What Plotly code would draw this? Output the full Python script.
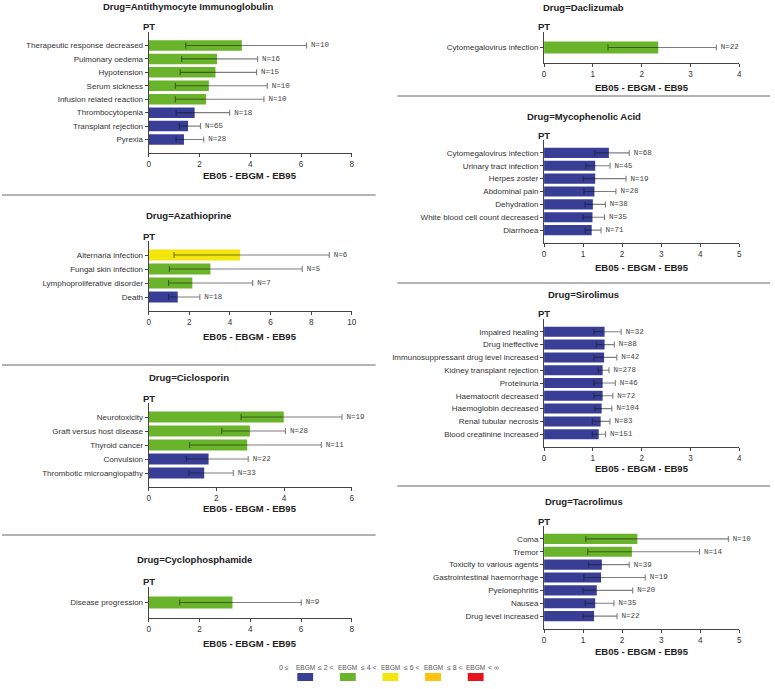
import plotly.graph_objects as go

# ---------------- data ----------------
atg_pt = ["Therapeutic response decreased", "Pulmonary oedema", "Hypotension", "Serum sickness",
          "Infusion related reaction", "Thrombocytopenia", "Transplant rejection", "Pyrexia"]
atg_ebgm = [3.67, 2.69, 2.63, 2.37, 2.26, 1.81, 1.55, 1.39]
atg_eb05 = [1.46, 1.30, 1.24, 1.05, 1.05, 1.08, 1.21, 1.08]
atg_eb95 = [6.22, 4.29, 4.25, 4.67, 4.54, 3.19, 2.04, 2.17]
atg_n = [10, 16, 15, 10, 10, 18, 65, 28]

aza_pt = ["Alternaria infection", "Fungal skin infection", "Lymphoproliferative disorder", "Death"]
aza_ebgm = [4.50, 3.04, 2.15, 1.43]
aza_eb05 = [1.25, 1.02, 0.98, 0.98]
aza_eb95 = [8.89, 7.56, 5.12, 2.52]
aza_n = [6, 5, 7, 18]

cic_pt = ["Neurotoxicity", "Graft versus host disease", "Thyroid cancer", "Convulsion",
          "Thrombotic microangiopathy"]
cic_ebgm = [3.99, 2.99, 2.91, 1.77, 1.64]
cic_eb05 = [2.73, 2.16, 1.21, 1.11, 1.19]
cic_eb95 = [5.71, 4.04, 5.10, 2.94, 2.50]
cic_n = [19, 28, 11, 22, 33]

cyc_pt = ["Disease progression"]
cyc_ebgm = [3.30]
cyc_eb05 = [1.22]
cyc_eb95 = [6.01]
cyc_n = [9]

dac_pt = ["Cytomegalovirus infection"]
dac_ebgm = [2.34]
dac_eb05 = [1.31]
dac_eb95 = [3.53]
dac_n = [22]

myc_pt = ["Cytomegalovirus infection", "Urinary tract infection", "Herpes zoster", "Abdominal pain",
          "Dehydration", "White blood cell count decreased", "Diarrhoea"]
myc_ebgm = [1.66, 1.31, 1.31, 1.29, 1.25, 1.24, 1.22]
myc_eb05 = [1.30, 1.07, 1.00, 1.02, 1.05, 1.00, 1.05]
myc_eb95 = [2.18, 1.69, 2.10, 1.84, 1.57, 1.55, 1.46]
myc_n = [68, 45, 19, 28, 38, 35, 71]

sir_pt = ["Impaired healing", "Drug ineffective", "Immunosuppressant drug level increased",
          "Kidney transplant rejection", "Proteinuria", "Haematocrit decreased",
          "Haemoglobin decreased", "Renal tubular necrosis", "Blood creatinine increased"]
sir_ebgm = [1.24, 1.24, 1.23, 1.20, 1.20, 1.20, 1.18, 1.16, 1.12]
sir_eb05 = [1.02, 1.07, 1.02, 1.11, 1.02, 1.02, 1.04, 0.99, 0.99]
sir_eb95 = [1.58, 1.44, 1.49, 1.33, 1.46, 1.41, 1.39, 1.35, 1.26]
sir_n = [32, 88, 42, 278, 46, 72, 104, 83, 151]

tac_pt = ["Coma", "Tremor", "Toxicity to various agents", "Gastrointestinal haemorrhage",
          "Pyelonephritis", "Nausea", "Drug level increased"]
tac_ebgm = [2.39, 2.25, 1.48, 1.46, 1.35, 1.31, 1.28]
tac_eb05 = [1.07, 1.12, 1.14, 1.02, 1.00, 1.05, 1.00]
tac_eb95 = [4.72, 3.98, 2.18, 2.59, 2.27, 1.79, 1.87]
tac_n = [10, 14, 39, 19, 20, 35, 22]

drugs = ["Antithymocyte Immunoglobulin", "Azathioprine", "Ciclosporin", "Cyclophosphamide",
         "Daclizumab", "Mycophenolic Acid", "Sirolimus", "Tacrolimus"]
x_max = [8, 10, 6, 8, 4, 5, 4, 5]
x_dtick = [2, 2, 2, 2, 1, 1, 1, 1]

band_edges = [0, 2, 4, 6, 8]
band_colors = ["#383E96", "#6AB42C", "#F2E60C", "#FFC20E", "#E8131B"]
legend_labels = ["0 ≤", "≤ 2 <", "≤ 4 <", "≤ 6 <", "≤ 8 <", "< ∞"]

# ---------------- layout geometry (screen pixels) ----------------
W, H = 775, 689


def px(x):
    return x / W


def py(y):
    return 1 - y / H


# x0, x1, ytop, ybot, title_x, title_y, pt_y, axtitle_y
geo = [
    (148, 353, 32, 153, 188, 7, 27, 176),
    (148, 353, 241, 311, 188, 215, 236, 336),
    (148, 353, 403, 487, 189, 377, 398, 508),
    (148, 353, 587, 618, 194, 559, 581, 643),
    (547, 744, 32, 63, 587, 8, 27, 87),
    (547, 744, 140, 243, 587, 117, 135, 267),
    (547, 744, 319, 447, 587, 294, 313, 468),
    (547, 744, 526, 629, 587, 501, 521, 651),
]

panels = [
    (atg_pt, atg_ebgm, atg_eb05, atg_eb95, atg_n),
    (aza_pt, aza_ebgm, aza_eb05, aza_eb95, aza_n),
    (cic_pt, cic_ebgm, cic_eb05, cic_eb95, cic_n),
    (cyc_pt, cyc_ebgm, cyc_eb05, cyc_eb95, cyc_n),
    (dac_pt, dac_ebgm, dac_eb05, dac_eb95, dac_n),
    (myc_pt, myc_ebgm, myc_eb05, myc_eb95, myc_n),
    (sir_pt, sir_ebgm, sir_eb05, sir_eb95, sir_n),
    (tac_pt, tac_ebgm, tac_eb05, tac_eb95, tac_n),
]


def color_for(v):
    c = band_colors[0]
    for e, col in zip(band_edges, band_colors):
        if v > e:
            c = col
    return c


AX = "#444444"
TXT = "#333333"
LBL = "Liberation Sans, Arial, sans-serif"
MONO = "Liberation Mono, Courier New, monospace"

fig = go.Figure()
annotations = []
layout_axes = {}

for k, ((pt, ebgm, eb05, eb95, nn), g, drug, xm, dt) in enumerate(zip(panels, geo, drugs, x_max, x_dtick)):
    x0, x1, yt, yb, tx, ty, pty, aty = g
    idx = list(range(len(pt)))
    sfx = "" if k == 0 else str(k + 1)
    xa, ya = "x" + sfx, "y" + sfx
    fig.add_trace(go.Bar(
        x=ebgm, y=idx, orientation="h", xaxis=xa, yaxis=ya,
        marker=dict(color=[color_for(v) for v in ebgm], line=dict(width=0)),
        error_x=dict(type="data", symmetric=False,
                     array=[h - m for h, m in zip(eb95, ebgm)],
                     arrayminus=[m - l for m, l in zip(ebgm, eb05)],
                     color="rgba(20,20,20,0.55)", thickness=1.1, width=3),
        showlegend=False, hoverinfo="skip",
    ))
    fig.add_trace(go.Scatter(
        x=eb95, y=idx, mode="text", xaxis=xa, yaxis=ya,
        text=[" N=%d" % v for v in nn], textposition="middle right",
        textfont=dict(family=MONO, size=7.5, color="#444444"),
        cliponaxis=False, showlegend=False, hoverinfo="skip",
    ))
    n = len(pt)
    layout_axes["xaxis" + sfx] = dict(
        domain=[px(x0), px(x1)], anchor=ya, range=[0, xm], dtick=dt, tick0=0,
        showline=True, linecolor=AX, linewidth=1, ticks="outside", ticklen=3, tickcolor=AX,
        showgrid=False, zeroline=False, tickfont=dict(family=LBL, size=8.2, color=TXT),
        fixedrange=True,
    )
    layout_axes["yaxis" + sfx] = dict(
        domain=[py(yb), py(yt)], anchor=xa, range=[n, -1],
        tickvals=idx, ticktext=pt,
        showline=True, linecolor=AX, linewidth=1, ticks="outside", ticklen=3, tickcolor=AX,
        showgrid=False, zeroline=False, tickfont=dict(family=LBL, size=8, color=TXT),
        fixedrange=True,
    )
    annotations.append(dict(text="<b>Drug=%s</b>" % drug, x=px(tx), y=py(ty), xref="paper", yref="paper",
                            showarrow=False, xanchor="center", yanchor="middle",
                            font=dict(family=LBL, size=9.5, color="#222222")))
    annotations.append(dict(text="<b>PT</b>", x=px(x0), y=py(pty), xref="paper", yref="paper",
                            showarrow=False, xanchor="center", yanchor="middle",
                            font=dict(family=LBL, size=9.5, color="#222222")))
    annotations.append(dict(text="<b>EB05 - EBGM - EB95</b>", x=px((x0 + x1) / 2), y=py(aty),
                            xref="paper", yref="paper", showarrow=False, xanchor="center", yanchor="middle",
                            font=dict(family=LBL, size=9.5, color="#222222")))

# separators
shapes = []
for yy in [195, 365, 535]:
    shapes.append(dict(type="line", xref="paper", yref="paper", x0=0, x1=px(377),
                       y0=py(yy), y1=py(yy), line=dict(color="#666666", width=1)))
for yy in [96, 283, 486]:
    shapes.append(dict(type="line", xref="paper", yref="paper", x0=px(399), x1=1,
                       y0=py(yy), y1=py(yy), line=dict(color="#666666", width=1)))

# colour-band legend
sq_x = [306, 349, 392, 435, 478]
lbl_x = [285, 327, 370, 414, 457, 496]
for cx, col in zip(sq_x, band_colors):
    shapes.append(dict(type="rect", xref="paper", yref="paper", x0=px(cx - 8), x1=px(cx + 8),
                       y0=py(681), y1=py(673), fillcolor=col, line=dict(width=0)))
    annotations.append(dict(text="EBGM", x=px(cx), y=py(667), xref="paper", yref="paper",
                            showarrow=False, xanchor="center", yanchor="middle",
                            font=dict(family=LBL, size=6.5, color="#555555")))
for lx, lt in zip(lbl_x, legend_labels):
    annotations.append(dict(text=lt, x=px(lx), y=py(667), xref="paper", yref="paper",
                            showarrow=False, xanchor="center", yanchor="middle",
                            font=dict(family=LBL, size=7, color="#555555")))

fig.update_layout(
    width=W, height=H, margin=dict(l=0, r=0, t=0, b=0),
    paper_bgcolor="white", plot_bgcolor="white", bargap=0.22,
    annotations=annotations, shapes=shapes, showlegend=False,
    **layout_axes,
)

fig.write_html("out.html", config={"displayModeBar": False},
               post_script="document.body.style.margin='0';document.body.style.padding='0';")
